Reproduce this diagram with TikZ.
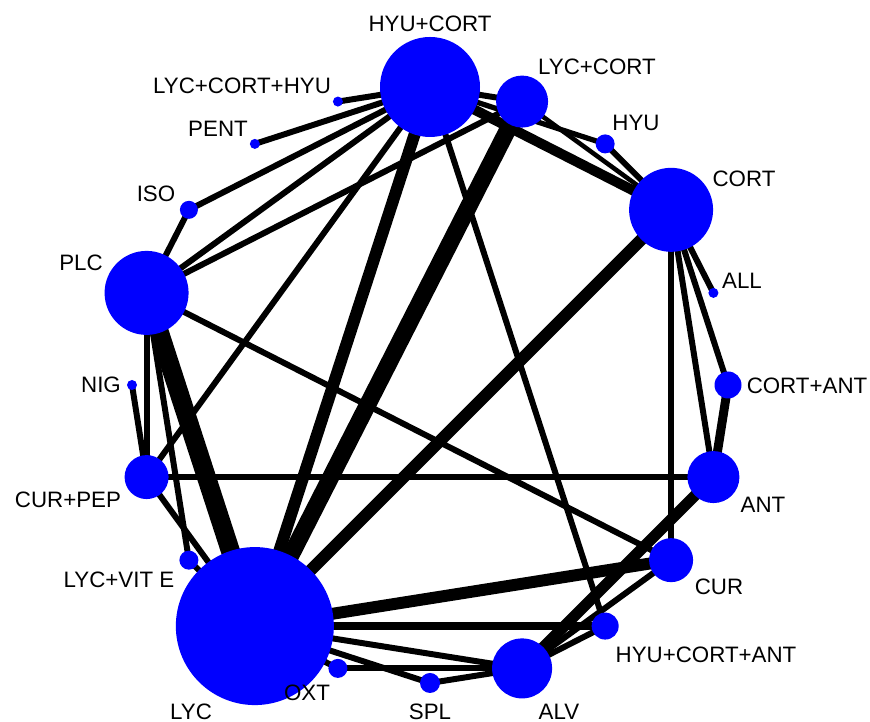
\documentclass[tikz,border=0pt]{standalone}
\usepackage{fontspec}
\setmainfont{Liberation Sans}
\pgfdeclarelayer{edges}
\pgfsetlayers{edges,main}
\def\netrad{5.96cm}

\begin{document}
\begin{tikzpicture}[
  trt/.style={circle,fill=blue,inner sep=0pt,minimum size=#1},
  lab/.style={inner sep=0pt,font=\fontsize{12.7}{15}\selectfont},
  lnk/.style={line width=#1},
  lnk/.default=3.4pt
]
\useasboundingbox (0,0) rectangle (17.4,14.44);
% the centre of the network circle
\coordinate (O) at (8.6,6.74);
% the treatments, clockwise from the top
\begin{scope}[shift={(O)}]
\node[trt=2cm]    (hc)   at (90:\netrad)   {};
\node[trt=1.04cm] (lc)   at (72:\netrad)   {};
\node[trt=0.38cm] (hyu)  at (54:\netrad)   {};
\node[trt=1.68cm] (cort) at (36:\netrad)   {};
\node[trt=0.2cm]  (all)  at (18:\netrad)   {};
\node[trt=0.54cm] (ca)   at (0:\netrad)    {};
\node[trt=1.04cm] (ant)  at (-18:\netrad)  {};
\node[trt=0.88cm] (cur)  at (-36:\netrad)  {};
\node[trt=0.54cm] (hca)  at (-54:\netrad)  {};
\node[trt=1.2cm]  (alv)  at (-72:\netrad)  {};
\node[trt=0.4cm]  (spl)  at (-90:\netrad)  {};
\node[trt=0.38cm] (oxt)  at (-108:\netrad) {};
\node[trt=3.16cm] (lyc)  at (-126:\netrad) {};
\node[trt=0.38cm] (lve)  at (-144:\netrad) {};
\node[trt=0.88cm] (cp)   at (-162:\netrad) {};
\node[trt=0.2cm]  (nig)  at (180:\netrad)  {};
\node[trt=1.68cm] (plc)  at (162:\netrad)  {};
\node[trt=0.36cm] (iso)  at (144:\netrad)  {};
\node[trt=0.2cm]  (pent) at (126:\netrad)  {};
\node[trt=0.2cm]  (lch)  at (108:\netrad)  {};
\end{scope}
% the labels
\node[lab] (hc-lab)   at (8.6,13.96)  {HYU+CORT};
\node[lab] (lc-lab)   at (11.94,13.1) {LYC+CORT};
\node[lab] (hyu-lab)  at (12.72,11.98) {HYU};
\node[lab] (cort-lab) at (14.88,10.86) {CORT};
\node[lab] (all-lab)  at (14.84,8.82) {ALL};
\node[lab] (ca-lab)   at (16.14,6.72) {CORT+ANT};
\node[lab] (ant-lab)  at (15.26,4.34) {ANT};
\node[lab] (cur-lab)  at (14.38,2.7)  {CUR};
\node[lab] (hca-lab)  at (14.12,1.34) {HYU+CORT+ANT};
\node[lab] (alv-lab)  at (11.18,0.2)  {ALV};
\node[lab] (spl-lab)  at (8.6,0.2)    {SPL};
\node[lab] (oxt-lab)  at (6.14,0.58)  {OXT};
\node[lab] (lyc-lab)  at (3.82,0.2)   {LYC};
\node[lab] (lve-lab)  at (2.38,2.84)  {LYC+VIT E};
\node[lab] (cp-lab)   at (1.36,4.44)  {CUR+PEP};
\node[lab] (nig-lab)  at (2.02,6.74)  {NIG};
\node[lab] (plc-lab)  at (1.62,9.18)  {PLC};
\node[lab] (iso-lab)  at (3.12,10.56) {ISO};
\node[lab] (pent-lab) at (4.36,11.86) {PENT};
\node[lab] (lch-lab)  at (4.84,12.72) {LYC+CORT+HYU};
% the comparisons, under the treatments
\begin{pgfonlayer}{edges}
\draw[lnk] (hc.center) -- (lch.center);
\draw[lnk] (hc.center) -- (pent.center);
\draw[lnk] (hc.center) -- (iso.center);
\draw[lnk] (hc.center) -- (plc.center);
\draw[lnk] (hc.center) -- (cp.center);
\draw[lnk=6.8pt] (hc.center) -- (lyc.center);
\draw[lnk] (hc.center) -- (hca.center);
\draw[lnk] (hc.center) -- (lc.center);
\draw[lnk=3pt] (hc.center) -- (hyu.center);
\draw[lnk=5.7pt] (hc.center) -- (cort.center);
\draw[lnk=9.7pt] (lc.center) -- (lyc.center);
\draw[lnk] (lc.center) -- (plc.center);
\draw[lnk=2.6pt] (lc.center) -- (cort.center);
\draw[lnk] (hyu.center) -- (cort.center);
\draw[lnk] (cort.center) -- (all.center);
\draw[lnk] (cort.center) -- (ca.center);
\draw[lnk] (cort.center) -- (ant.center);
\draw[lnk] (cort.center) -- (cur.center);
\draw[lnk=6.8pt] (cort.center) -- (lyc.center);
\draw[lnk=5.1pt] (ca.center) -- (ant.center);
\draw[lnk] (ant.center) -- (cp.center);
\draw[lnk=6.3pt] (ant.center) -- (alv.center);
\draw[lnk=6.8pt] (cur.center) -- (lyc.center);
\draw[lnk] (cur.center) -- (plc.center);
\draw[lnk] (cur.center) -- (alv.center);
\draw[lnk=4.4pt] (hca.center) -- (lyc.center);
\draw[lnk] (hca.center) -- (alv.center);
\draw[lnk] (alv.center) -- (lyc.center);
\draw[lnk] (alv.center) -- (spl.center);
\draw[lnk] (alv.center) -- (oxt.center);
\draw[lnk] (spl.center) -- (lyc.center);
\draw[lnk] (oxt.center) -- (lyc.center);
\draw[lnk] (lyc.center) -- (lve.center);
\draw[lnk] (lyc.center) -- (cp.center);
\draw[lnk=10.8pt] (lyc.center) -- (plc.center);
\draw[lnk] (lve.center) -- (plc.center);
\draw[lnk] (cp.center) -- (plc.center);
\draw[lnk] (cp.center) -- (nig.center);
\draw[lnk] (plc.center) -- (iso.center);
\end{pgfonlayer}
\end{tikzpicture}
\end{document}
